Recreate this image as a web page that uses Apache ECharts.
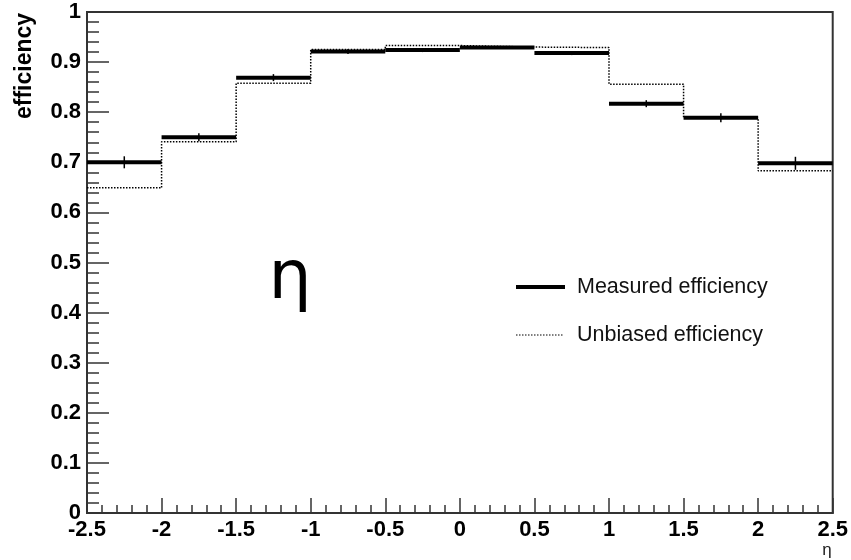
<!DOCTYPE html>
<html>
<head>
<meta charset="utf-8">
<script src="https://cdn.jsdelivr.net/npm/echarts@6/dist/echarts.min.js"></script>
<style>html,body{margin:0;padding:0;background:#fff}#c{width:851px;height:560px}</style>
</head>
<body>
<div id="c"></div>
<script>
// bin edges in eta
const binEdges = [-2.5, -2, -1.5, -1, -0.5, 0, 0.5, 1, 1.5, 2, 2.5];
// measured efficiency per bin and its error
const measured = [0.700, 0.750, 0.869, 0.921, 0.924, 0.929, 0.918, 0.817, 0.789, 0.698];
const measuredErr = [0.012, 0.008, 0.007, 0.005, 0.004, 0.003, 0.004, 0.007, 0.009, 0.013];
// unbiased efficiency per bin
const unbiased = [0.649, 0.741, 0.858, 0.925, 0.933, 0.930, 0.929, 0.856, 0.789, 0.683];
const legendNames = ['Measured efficiency', 'Unbiased efficiency'];

const measuredData = measured.map((v, i) => [binEdges[i], binEdges[i + 1], v, measuredErr[i]]);
const unbiasedData = unbiased.map((v, i) => [binEdges[i], v]);
unbiasedData.push([binEdges[binEdges.length - 1], unbiased[unbiased.length - 1]]);

const chart = echarts.init(document.getElementById('c'), null, {renderer: 'canvas'});
const axisColor = '#333';
const labelFont = {color: '#000', fontFamily: 'Liberation Sans', fontWeight: 'bold', fontSize: 22};

chart.setOption({
  animation: false,
  backgroundColor: '#fff',
  grid: {left: 87, right: 18, top: 12, bottom: 47, show: true, borderColor: axisColor, borderWidth: 2, backgroundColor: 'transparent'},
  xAxis: {
    type: 'value', min: -2.5, max: 2.5, interval: 0.5,
    axisLine: {show: true, onZero: false, lineStyle: {color: axisColor, width: 2}},
    axisTick: {show: true, inside: true, length: 15, lineStyle: {color: axisColor, width: 1.5}},
    minorTick: {show: true, splitNumber: 5, length: 8, lineStyle: {color: axisColor, width: 1.5}},
    splitLine: {show: false},
    axisLabel: Object.assign({margin: 6, showMinLabel: true, showMaxLabel: true}, labelFont)
  },
  yAxis: {
    type: 'value', min: 0, max: 1, interval: 0.1,
    axisLine: {show: true, onZero: false, lineStyle: {color: axisColor, width: 2}},
    axisTick: {show: true, inside: true, length: 22, lineStyle: {color: axisColor, width: 1.5}},
    minorTick: {show: true, splitNumber: 5, length: 12, lineStyle: {color: axisColor, width: 1.5}},
    splitLine: {show: false},
    axisLabel: Object.assign({margin: 6, showMinLabel: true, showMaxLabel: true}, labelFont)
  },
  series: [
    {
      name: legendNames[1], type: 'line', step: 'end', data: unbiasedData,
      symbol: 'none', z: 2,
      lineStyle: {color: '#000', width: 1.5, type: [1.5, 1.5]}
    },
    {
      name: legendNames[0], type: 'custom', data: measuredData, z: 3,
      encode: {x: [0, 1], y: 2},
      renderItem: function (params, api) {
        const lo = api.value(0), hi = api.value(1), v = api.value(2), e = api.value(3);
        const p1 = api.coord([lo, v]), p2 = api.coord([hi, v]);
        const mid = (lo + hi) / 2;
        const a = api.coord([mid, v + e]), b = api.coord([mid, v - e]);
        return {type: 'group', children: [
          {type: 'line', shape: {x1: p1[0], y1: p1[1], x2: p2[0], y2: p2[1]}, style: {stroke: '#000', lineWidth: 4}},
          {type: 'line', shape: {x1: a[0], y1: a[1], x2: b[0], y2: b[1]}, style: {stroke: '#000', lineWidth: 1.5}}
        ]};
      }
    }
  ],
  graphic: [
    {type: 'text', x: 25, y: 66, rotation: Math.PI / 2,
     style: {text: 'efficiency', fill: '#000', font: 'bold 23px "Liberation Sans"', align: 'center', verticalAlign: 'middle'}},
    {type: 'text', x: 827, y: 550,
     style: {text: 'η', fill: '#222', font: '17px "Liberation Sans"', align: 'center', verticalAlign: 'middle'}},
    {type: 'text', x: 290, y: 280,
     style: {text: 'η', fill: '#000', font: '68px "DejaVu Sans"', align: 'center', verticalAlign: 'middle'}},
    {type: 'line', shape: {x1: 516, y1: 287, x2: 565, y2: 287}, style: {stroke: '#000', lineWidth: 4}},
    {type: 'text', x: 577, y: 287,
     style: {text: legendNames[0], fill: '#111', font: '21.5px "Liberation Sans"', align: 'left', verticalAlign: 'middle'}},
    {type: 'line', shape: {x1: 516, y1: 335, x2: 564, y2: 335}, style: {stroke: '#000', lineWidth: 1.2, lineDash: [1.5, 1.5]}},
    {type: 'text', x: 577, y: 335,
     style: {text: legendNames[1], fill: '#111', font: '21.5px "Liberation Sans"', align: 'left', verticalAlign: 'middle'}}
  ]
});
</script>
</body>
</html>
